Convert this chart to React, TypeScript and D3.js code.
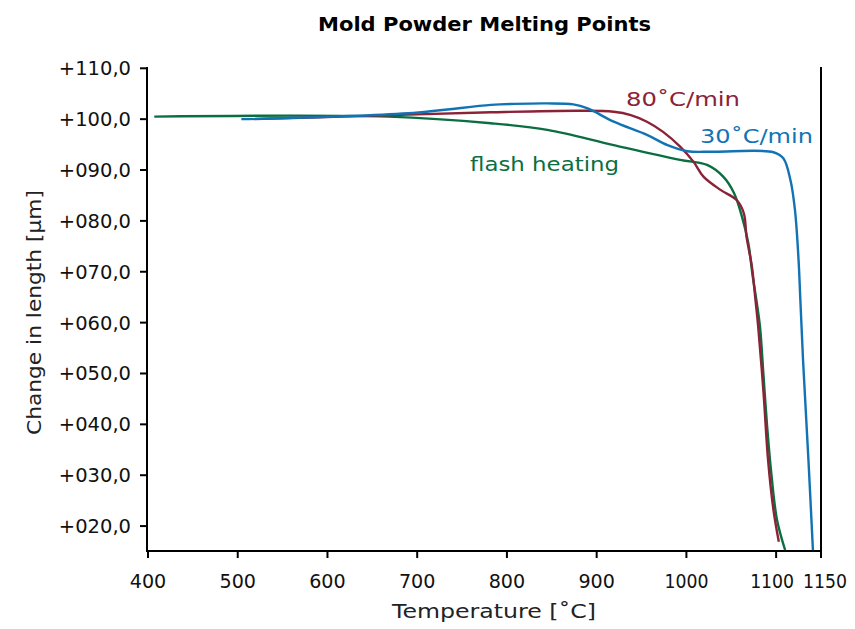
import React from "react";
import * as d3 from "d3";

const title = "Mold Powder Melting Points";
const xTicks = [400, 500, 600, 700, 800, 900, 1000, 1100, 1150];
const yTicks = [20, 30, 40, 50, 60, 70, 80, 90, 100, 110];

const flashT = [407, 668, 782, 845, 919, 993, 1023, 1041, 1053, 1062, 1069, 1074, 1078, 1082, 1086, 1090, 1095, 1101, 1110];
const flashL = [100.5, 100.5, 99.2, 97.9, 94.9, 92.0, 91.0, 88.7, 85.5, 80.8, 75.6, 69.0, 64.4, 59.2, 49.4, 39.5, 29.7, 21.2, 15.3];

const r80T = [518, 616, 782, 882, 919, 938, 956, 974, 993, 1008, 1019, 1038, 1056, 1064, 1067, 1073, 1077, 1080, 1086, 1091, 1097, 1103];
const r80L = [100.0, 100.5, 101.35, 101.65, 101.45, 100.8, 99.5, 97.5, 94.6, 91.6, 88.7, 86.1, 84.1, 81.5, 76.9, 71.0, 64.4, 59.2, 46.1, 33.0, 23.2, 16.9];

const r30T = [504, 690, 782, 808, 845, 874, 890, 919, 956, 979, 1001, 1030, 1097, 1108, 1116, 1121, 1125, 1127, 1130, 1136, 1141];
const r30L = [100.0, 101.15, 102.8, 103.0, 103.1, 102.9, 102.1, 99.5, 96.9, 94.9, 93.7, 93.6, 93.5, 92.3, 88.0, 82.1, 72.3, 64.4, 52.6, 33.0, 15.3];

const seriesNames = ["flash heating", "80˚C/min", "30˚C/min"];
const colors = ["#0b6e40", "#8b2236", "#1273b4"];

const FONT = "'DejaVu Sans', 'Liberation Sans', sans-serif";

export default function App() {
  const W = 855, H = 629;
  const x = d3.scaleLinear().domain([400, 1150]).range([148, 821]);
  const y = d3.scaleLinear().domain([15.1, 110]).range([551, 68.3]);
  const line = d3
    .line<[number, number]>()
    .x((d) => x(d[0]))
    .y((d) => y(d[1]))
    .curve(d3.curveCatmullRom.alpha(0.5));

  const series = [
    { T: flashT, L: flashL },
    { T: r80T, L: r80L },
    { T: r30T, L: r30L },
  ];

  const fmtY = (v: number) => "+" + d3.format("03d")(v) + ",0";
  const axX = 147;
  const lastIdx = xTicks.length - 1;

  return (
    <svg width={W} height={H} style={{ position: "absolute", left: 0, top: 0 }} fontFamily={FONT}>
      <rect width={W} height={H} fill="#fff" />
      <text x={484.5} y={31} textAnchor="middle" fontWeight="bold" fontSize={20} fill="#000"
        textLength={333} lengthAdjust="spacingAndGlyphs">
        {title}
      </text>

      {/* axes */}
      <line x1={axX} x2={axX} y1={67} y2={552} stroke="#000" strokeWidth={2} />
      <line x1={821} x2={821} y1={67} y2={552} stroke="#000" strokeWidth={2} />
      <line x1={axX - 1} x2={822} y1={551} y2={551} stroke="#000" strokeWidth={2} />

      {yTicks.map((t) => (
        <g key={"y" + t}>
          <line x1={140} x2={axX} y1={y(t)} y2={y(t)} stroke="#000" strokeWidth={2} />
          <text x={131} y={y(t) + 7} textAnchor="end" fontSize={19.5} fill="#111">
            {fmtY(t)}
          </text>
        </g>
      ))}
      {xTicks.map((t, i) => {
        const s = String(t);
        const nudge = i === lastIdx ? 4 : i === lastIdx - 1 ? -4 : 0;
        return (
          <g key={"x" + t}>
            <line x1={x(t)} x2={x(t)} y1={551} y2={558} stroke="#000" strokeWidth={2} />
            <text x={x(t) + nudge} y={588} textAnchor="middle" fontSize={19.5} fill="#111"
              textLength={s.length > 3 ? 44 : 36.5} lengthAdjust="spacingAndGlyphs">
              {s}
            </text>
          </g>
        );
      })}

      <text x={494} y={618} textAnchor="middle" fontSize={20} fill="#222"
        textLength={204} lengthAdjust="spacingAndGlyphs">
        Temperature [˚C]
      </text>
      <text
        transform={`translate(41,312.5) rotate(-90)`}
        textAnchor="middle"
        fontSize={20}
        fill="#222"
        textLength={245}
        lengthAdjust="spacingAndGlyphs"
      >
        Change in length [µm]
      </text>

      {series.map((s, i) => (
        <path
          key={i}
          d={line(s.T.map((t, j) => [t, s.L[j]] as [number, number])) || ""}
          fill="none"
          stroke={colors[i]}
          strokeWidth={2.4}
        />
      ))}

      <text x={470} y={171} fontSize={20} fill={colors[0]} textLength={149} lengthAdjust="spacingAndGlyphs">
        {seriesNames[0]}
      </text>
      <text x={626} y={106} fontSize={20} fill={colors[1]} textLength={114} lengthAdjust="spacingAndGlyphs">
        {seriesNames[1]}
      </text>
      <text x={700} y={143} fontSize={20} fill={colors[2]} textLength={113} lengthAdjust="spacingAndGlyphs">
        {seriesNames[2]}
      </text>
    </svg>
  );
}
